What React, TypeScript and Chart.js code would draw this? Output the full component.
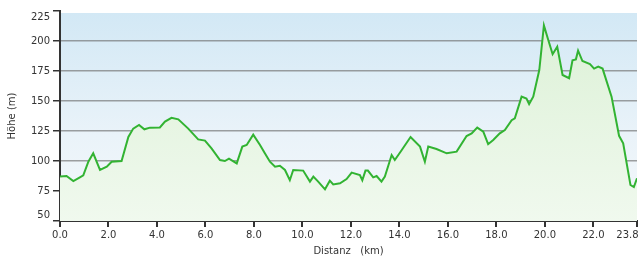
import React, { useEffect, useRef } from "react";
import { Chart, registerables } from "chart.js";

Chart.register(...registerables);

const distanceKm = [
  0.0, 0.27, 0.55, 0.82, 0.96, 1.17, 1.37, 1.65, 1.93, 2.13, 2.54, 2.82, 3.02, 3.26, 3.48, 3.71,
  4.12, 4.33, 4.6, 4.88, 5.29, 5.7, 5.98, 6.25, 6.6, 6.8, 6.97, 7.29, 7.52, 7.7, 7.97, 8.25,
  8.45, 8.66, 8.87, 9.07, 9.28, 9.48, 9.62, 10.03, 10.31, 10.45, 10.65, 10.93, 11.13, 11.27,
  11.55, 11.82, 12.03, 12.37, 12.47, 12.6, 12.7, 12.92, 13.06, 13.26, 13.4, 13.68, 13.81, 14.09,
  14.46, 14.85, 15.05, 15.19, 15.53, 15.95, 16.36, 16.77, 16.98, 17.21, 17.46, 17.66, 17.87,
  18.14, 18.35, 18.63, 18.76, 19.04, 19.24, 19.35, 19.52, 19.77, 19.96, 20.14, 20.32, 20.51,
  20.73, 21.0, 21.14, 21.28, 21.37, 21.55, 21.86, 22.03, 22.2, 22.38, 22.75, 23.06, 23.23,
  23.53, 23.67, 23.8,
];

const elevationM = [
  87, 87.5, 83.3, 86.4, 88, 99.4, 106.4, 92.5, 95.3, 99.4, 100, 120, 127, 130, 126.4, 127.8,
  128, 132.8, 136, 134.7, 127, 118, 117, 110.5, 100.8, 100, 102, 98, 112, 113.3, 122, 113.3,
  106.4, 99.4, 95.3, 96, 92.5, 84, 92.5, 92, 82.8, 87, 82.8, 76.4, 83.6, 80.5,
  81.4, 85, 90.3, 88.3, 84, 92, 92, 86.4, 87.5, 82.8, 87, 105, 100.8, 109,
  120, 112, 99.4, 112, 110, 106.4, 107.8, 120.8, 123, 127.8, 124.4, 114, 117.5,
  123, 125.8, 134, 135.6, 153.6, 152, 147.5, 153.6, 175.8, 213, 200.8, 189, 195.3,
  171.7, 169, 184, 184.7, 192, 183.3, 180.8, 177, 178.6, 177, 153.6, 121, 114.7,
  80, 78.3, 85.6,
];

const xTickValues = [0, 2, 4, 6, 8, 10, 12, 14, 16, 18, 20, 22, 23.8];
const yMin = 50;
const yMax = 225;
const yStep = 25;

const xTitle = "Distanz   (km)";
const yTitle = "Höhe (m)";

const bgPlugin = {
  id: "plotBg",
  beforeDraw(chart: any) {
    const { ctx, chartArea } = chart;
    if (!chartArea) return;
    const g = ctx.createLinearGradient(0, chartArea.top, 0, chartArea.bottom);
    g.addColorStop(0, "#d2e8f5");
    g.addColorStop(0.6, "#eaf3f9");
    g.addColorStop(1, "#f4f8fb");
    ctx.save();
    ctx.fillStyle = g;
    ctx.fillRect(chartArea.left, chartArea.top + 2, chartArea.right - chartArea.left, chartArea.bottom - chartArea.top - 2);
    ctx.restore();
  },
};

export default function App() {
  const ref = useRef<HTMLCanvasElement | null>(null);

  useEffect(() => {
    document.body.style.margin = "0";
    Chart.defaults.font.family = "'DejaVu Sans', Verdana, sans-serif";
    const canvas = ref.current;
    if (!canvas) return;
    const chart = new Chart(canvas, {
      type: "line",
      data: {
        datasets: [
          {
            data: distanceKm.map((x, i) => ({ x, y: elevationM[i] })),
            borderColor: "#32b332",
            borderWidth: 2,
            pointRadius: 0,
            tension: 0,
            fill: "start",
            backgroundColor: (c: any) => {
              const area = c.chart.chartArea;
              if (!area) return "rgba(220,240,215,0.8)";
              const g = c.chart.ctx.createLinearGradient(0, area.top, 0, area.bottom);
              g.addColorStop(0, "#dbf0d5");
              g.addColorStop(0.5, "#e6f5e2");
              g.addColorStop(1, "#f0f9ee");
              return g;
            },
          },
        ],
      },
      options: {
        animation: false,
        responsive: false,
        maintainAspectRatio: false,
        layout: { padding: { top: 11, right: 2, left: 0, bottom: 0 } },
        plugins: { legend: { display: false }, tooltip: { enabled: false } },
        scales: {
          x: {
            type: "linear",
            min: 0,
            max: 23.8,
            border: { display: true, color: "#333", width: 2 },
            grid: { drawOnChartArea: false, tickLength: 6, tickColor: "#333", lineWidth: 2 },
            afterBuildTicks: (scale: any) => {
              scale.ticks = xTickValues.map((v) => ({ value: v }));
            },
            afterFit: (scale: any) => {
              scale.height = 36;
              scale.paddingLeft = 0;
              scale.paddingRight = 0;
            },
            ticks: {
              autoSkip: false,
              maxRotation: 0,
              padding: 2,
              color: "#333",
              font: { size: 10 },
              callback: (v: any) => {
                const n = Number(v);
                const s = n.toFixed(1);
                return n === 23.8 ? s + "      " : s;
              },
            },
            title: {
              display: true,
              text: xTitle,
              color: "#333",
              font: { size: 10 },
              padding: { top: 2, bottom: 0 },
            },
          },
          y: {
            min: yMin,
            max: yMax,
            border: { display: true, color: "#333", width: 2 },
            grid: {
              color: (c: any) =>
                c.tick && (c.tick.value === yMin || c.tick.value === yMax) ? "rgba(0,0,0,0)" : "rgba(110,110,110,0.65)",
              lineWidth: 1.5,
              tickColor: "#333",
              tickLength: 7,
            },
            afterFit: (scale: any) => {
              scale.width = 60;
              scale.paddingTop = 0;
              scale.paddingBottom = 0;
            },
            ticks: {
              stepSize: yStep,
              padding: 3,
              color: "#333",
              font: { size: 10 },
              callback: (v: any) => {
                const n = Number(v);
                if (n === yMax) return ["", String(n)];
                if (n === yMin) return [String(n), ""];
                return String(n);
              },
            },
            title: {
              display: true,
              text: yTitle,
              color: "#333",
              font: { size: 10 },
              padding: { top: 6, bottom: 0 },
            },
          },
        },
      },
      plugins: [bgPlugin],
    });
    return () => chart.destroy();
  }, []);

  return (
    <div style={{ width: 639, height: 257, background: "#fff" }}>
      <canvas ref={ref} width={639} height={257} style={{ width: 639, height: 257 }} />
    </div>
  );
}
